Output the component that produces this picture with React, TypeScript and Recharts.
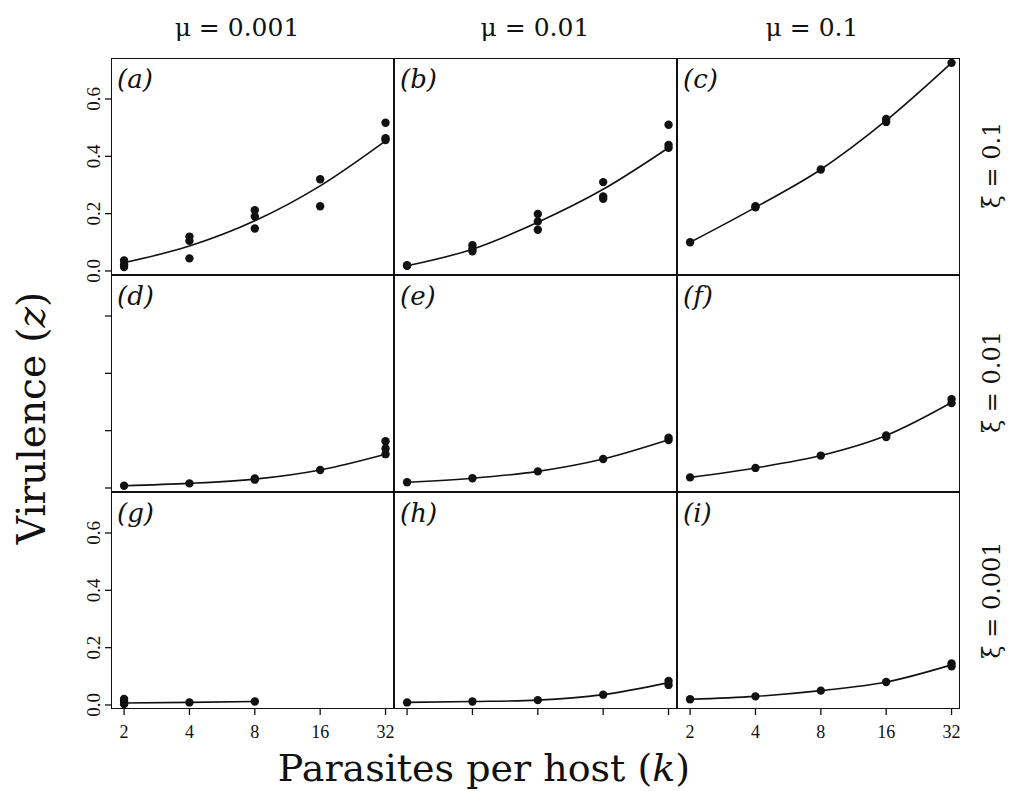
import React from "react";
import { ComposedChart, Line, Scatter, XAxis, YAxis } from "recharts";

// parasites per host (k), log2 spaced
const kValues = [2, 4, 8, 16, 32];
const yTicks = [0, 0.2, 0.4, 0.6];

// replicate runs per k (rows: xi = 0.1, 0.01, 0.001; cols: mu = 0.001, 0.01, 0.1)
const runsA = [[0.037, 0.023, 0.014], [0.12, 0.105, 0.044], [0.212, 0.19, 0.148], [0.32, 0.226], [0.517, 0.463, 0.457]];
const runsB = [[0.018, 0.02], [0.09, 0.078, 0.069], [0.199, 0.173, 0.144], [0.31, 0.26, 0.252], [0.51, 0.44, 0.43]];
const runsC = [[0.1], [0.222, 0.226], [0.354], [0.52, 0.53], [0.726]];
const runsD = [[0.008], [0.016], [0.033, 0.029], [0.063], [0.163, 0.138, 0.118]];
const runsE = [[0.02], [0.034], [0.058], [0.101], [0.175, 0.167]];
const runsF = [[0.037], [0.07], [0.113], [0.183, 0.178], [0.31, 0.296]];
const runsG = [[0.021, 0.012, 0.003], [0.009], [0.012]];
const runsH = [[0.009], [0.012], [0.017], [0.036], [0.084, 0.07]];
const runsI = [[0.02], [0.03], [0.05], [0.08], [0.145, 0.135]];

// fitted curves
const fitA = [0.029, 0.087, 0.175, 0.297, 0.454];
const fitB = [0.018, 0.076, 0.17, 0.285, 0.43];
const fitC = [0.1, 0.222, 0.354, 0.525, 0.726];
const fitD = [0.008, 0.016, 0.031, 0.063, 0.118];
const fitE = [0.02, 0.034, 0.058, 0.101, 0.168];
const fitF = [0.037, 0.07, 0.113, 0.183, 0.298];
const fitG = [0.007, 0.009, 0.012];
const fitH = [0.009, 0.012, 0.017, 0.036, 0.078];
const fitI = [0.02, 0.03, 0.05, 0.08, 0.14];

const muLabels = ["μ = 0.001", "μ = 0.01", "μ = 0.1"];
const xiLabels = ["ξ = 0.1", "ξ = 0.01", "ξ = 0.001"];

const panels = [
  { letter: "a", runs: runsA, fit: fitA },
  { letter: "b", runs: runsB, fit: fitB },
  { letter: "c", runs: runsC, fit: fitC },
  { letter: "d", runs: runsD, fit: fitD },
  { letter: "e", runs: runsE, fit: fitE },
  { letter: "f", runs: runsF, fit: fitF },
  { letter: "g", runs: runsG, fit: fitG },
  { letter: "h", runs: runsH, fit: fitH },
  { letter: "i", runs: runsI, fit: fitI },
];

const COL_X = [111, 394, 677];
const ROW_Y = [58, 275, 492];
const PW = 283;
const PH = 217;
const Y_AXIS_W = 30;
const X_AXIS_H = 40;
const PAD_B = 14;
const X_DOMAIN = [1.741, 35];
const Y_DOMAIN = [-0.014, 0.743];
const INK = "#111";
const SERIF = "'Liberation Serif', serif";
const LABEL_FONT = "'DejaVu Serif', serif";

const dotShape = (props: any) => <circle cx={props.cx} cy={props.cy} r={4.2} fill={INK} />;

const makeXTick = (showLabel: boolean) => (props: any) =>
  showLabel ? (
    <text x={props.x} y={props.y + 21} textAnchor="middle" fontSize={18} fontFamily={SERIF} fill={INK}>
      {props.payload.value}
    </text>
  ) : (
    <g />
  );

const makeYTick = (showLabel: boolean) => (props: any) => {
  if (!showLabel) return <g />;
  const x0 = props.x - 3;
  return (
    <text
      x={x0}
      y={props.y}
      transform={`rotate(-90 ${x0} ${props.y})`}
      textAnchor="middle"
      fontSize={19}
      fontFamily={SERIF}
      fill={INK}
    >
      {props.payload.value.toFixed(1)}
    </text>
  );
};

function Panel({ idx }: { idx: number }) {
  const row = Math.floor(idx / 3);
  const col = idx % 3;
  const { letter, runs, fit } = panels[idx];
  const showY = col === 0;
  const showX = row === 2;
  const padB = showX ? 0 : PAD_B;
  const w = PW + (showY ? Y_AXIS_W : 0);
  const h = PH + (showX ? X_AXIS_H : 0) + padB;
  const left = COL_X[col] - (showY ? Y_AXIS_W : 0);
  const top = ROW_Y[row];

  const points = runs.flatMap((vals, i) => vals.map((z) => ({ k: kValues[i], z })));
  const curve = fit.map((z, i) => ({ k: kValues[i], z }));

  return (
    <>
      <div style={{ position: "absolute", left, top }}>
        <ComposedChart width={w} height={h} margin={{ top: 0, right: 0, bottom: padB, left: 0 }}>
          <XAxis
            dataKey="k"
            type="number"
            scale="log"
            domain={X_DOMAIN}
            allowDataOverflow
            ticks={kValues}
            hide={!showX}
            height={X_AXIS_H}
            axisLine={false}
            tickSize={6}
            tickLine={{ stroke: INK, strokeWidth: 1.3 }}
            tick={makeXTick(col !== 1)}
            interval={0}
          />
          <YAxis
            dataKey="z"
            type="number"
            domain={Y_DOMAIN}
            allowDataOverflow
            ticks={yTicks}
            hide={!showY}
            width={Y_AXIS_W}
            axisLine={false}
            tickSize={6}
            tickLine={{ stroke: INK, strokeWidth: 1.3 }}
            tick={makeYTick(row !== 1)}
            interval={0}
          />
          <Line
            data={curve}
            dataKey="z"
            type="monotone"
            stroke={INK}
            strokeWidth={1.6}
            dot={false}
            isAnimationActive={false}
          />
          <Scatter data={points} dataKey="z" fill={INK} shape={dotShape} isAnimationActive={false} />
        </ComposedChart>
      </div>
      <div
        style={{
          position: "absolute",
          left: COL_X[col],
          top: ROW_Y[row],
          width: PW,
          height: PH,
          border: `1.5px solid ${INK}`,
          boxSizing: "border-box",
          pointerEvents: "none",
        }}
      />
      <div
        style={{
          position: "absolute",
          left: COL_X[col] + 6,
          top: ROW_Y[row] + 6,
          fontFamily: LABEL_FONT,
          fontStyle: "italic",
          fontSize: 26,
          lineHeight: "30px",
          color: INK,
        }}
      >
        ({letter})
      </div>
    </>
  );
}

export default function App() {
  const colCenters = [237, 535, 812];
  const rowCenters = [165, 382, 600];
  return (
    <div
      style={{
        position: "absolute",
        left: 0,
        top: 0,
        width: 1018,
        height: 791,
        background: "#fff",
        overflow: "hidden",
      }}
    >
      {panels.map((_, i) => (
        <Panel key={i} idx={i} />
      ))}
      <svg width={1018} height={791} style={{ position: "absolute", left: 0, top: 0, pointerEvents: "none" }}>
        {muLabels.map((t, i) => (
          <text key={t} x={colCenters[i]} y={36} textAnchor="middle" fontSize={25} fontFamily={LABEL_FONT} fill={INK}>
            {t}
          </text>
        ))}
        {xiLabels.map((t, i) => (
          <text
            key={t}
            x={1000}
            y={rowCenters[i]}
            transform={`rotate(-90 1000 ${rowCenters[i]})`}
            textAnchor="middle"
            fontSize={24}
            fontFamily={LABEL_FONT}
            fill={INK}
          >
            {t}
          </text>
        ))}
        <text
          x={45}
          y={418}
          transform="rotate(-90 45 418)"
          textAnchor="middle"
          fontSize={39}
          fontFamily={LABEL_FONT}
          fill={INK}
        >
          Virulence (<tspan fontStyle="italic">z</tspan>)
        </text>
        <text x={484} y={781} textAnchor="middle" fontSize={38} fontFamily={LABEL_FONT} fill={INK}>
          Parasites per host (<tspan fontStyle="italic">k</tspan>)
        </text>
      </svg>
    </div>
  );
}
